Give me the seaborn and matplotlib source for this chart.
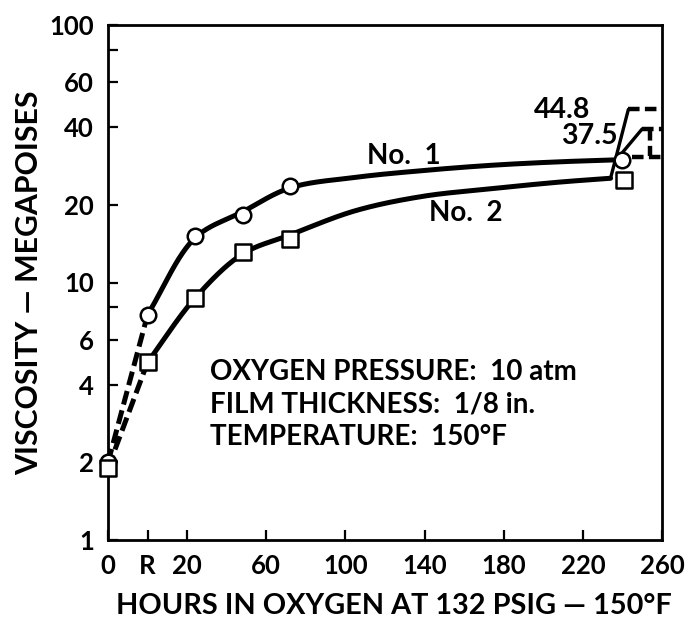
import numpy as np
import pandas as pd
import matplotlib
matplotlib.use("Agg")
import matplotlib.pyplot as plt
import seaborn as sns

# ---------------- data ----------------
# x position -20 is the axis origin labelled "0" (unaged), 0 is "R"
# plotted markers
hours_no1 = [-20, 0, 24, 48, 72, 240]
visc_no1 = [2.0, 7.5, 15.1, 18.3, 23.8, 30.0]
hours_no2 = [-20, 0, 24, 48, 72, 241]
visc_no2 = [1.9, 4.9, 8.7, 13.1, 14.7, 24.9]

# drawn (faired) curves
curve_no1_hours = [0, 24, 48, 72, 105, 139, 173, 207, 240]
curve_no1_visc = [7.5, 14.9, 18.8, 23.3, 25.6, 27.2, 28.5, 29.4, 30.0]
curve_no2_hours = [0, 24, 48, 72, 105, 139, 173, 207, 234]
curve_no2_visc = [4.9, 8.7, 12.9, 15.3, 19.0, 21.6, 23.1, 24.5, 25.4]

# final steep rises and dashed end levels
rise_a_x = [234, 243]
rise_a_y = [25.4, 47.0]
rise_b_x = [237, 250]
rise_b_y = [30.0, 39.5]
level_a_x = [243, 260]
level_a_y = [47.0, 47.0]
level_b_x = [250, 260]
level_b_y = [39.5, 39.5]
drop_x = [254, 254]
drop_y = [39.5, 31.0]
level_c_x = [245, 260]
level_c_y = [30.8, 30.8]
end_labels = ["44.8", "37.5"]

xtick_pos = [-20, 0, 20, 60, 100, 140, 180, 220, 260]
xtick_labels = ["0", "R", "20", "60", "100", "140", "180", "220", "260"]
ytick_pos = [1, 2, 4, 6, 8, 10, 20, 40, 60, 80, 100]
ytick_labels = ["1", "2", "4", "6", "", "10", "20", "40", "60", "", "100"]

XMIN, XMAX, YMIN, YMAX = -20, 260, 1, 100
W, H = 696, 622
AX_L, AX_R, AX_T, AX_B = 108, 662, 25, 540

# ---------------- helpers ----------------
def to_disp(x, v):
    X = (np.asarray(x, float) - XMIN) / (XMAX - XMIN) * (AX_R - AX_L)
    Y = (np.log10(v) - np.log10(YMIN)) / (np.log10(YMAX) - np.log10(YMIN)) * (AX_B - AX_T)
    return np.column_stack([X, Y])

def from_disp(P):
    x = P[:, 0] / (AX_R - AX_L) * (XMAX - XMIN) + XMIN
    v = 10 ** (P[:, 1] / (AX_B - AX_T) * (np.log10(YMAX) - np.log10(YMIN)) + np.log10(YMIN))
    return x, v

def catmull_rom(P, n=80, alpha=0.5):
    P = np.vstack([2 * P[0] - P[1], P, 2 * P[-1] - P[-2]])
    out = []
    for i in range(1, len(P) - 2):
        p0, p1, p2, p3 = P[i - 1], P[i], P[i + 1], P[i + 2]
        t0 = 0.0
        t1 = t0 + np.linalg.norm(p1 - p0) ** alpha
        t2 = t1 + np.linalg.norm(p2 - p1) ** alpha
        t3 = t2 + np.linalg.norm(p3 - p2) ** alpha
        t = np.linspace(t1, t2, n)[:, None]
        A1 = (t1 - t) / (t1 - t0) * p0 + (t - t0) / (t1 - t0) * p1
        A2 = (t2 - t) / (t2 - t1) * p1 + (t - t1) / (t2 - t1) * p2
        A3 = (t3 - t) / (t3 - t2) * p2 + (t - t2) / (t3 - t2) * p3
        B1 = (t2 - t) / (t2 - t0) * A1 + (t - t0) / (t2 - t0) * A2
        B2 = (t3 - t) / (t3 - t1) * A2 + (t - t1) / (t3 - t1) * A3
        C = (t2 - t) / (t2 - t1) * B1 + (t - t1) / (t2 - t1) * B2
        out.append(C)
    return np.vstack(out)

def smooth(xv, yv):
    return from_disp(catmull_rom(to_disp(xv, yv)))

# ---------------- figure ----------------
sns.set_theme(style="ticks")
plt.rcParams["font.family"] = ["Lato", "DejaVu Sans"]
plt.rcParams["font.weight"] = "bold"
fig = plt.figure(figsize=(W / 100, H / 100), dpi=100)
ax = fig.add_axes([AX_L / W, 1 - AX_B / H, (AX_R - AX_L) / W, (AX_B - AX_T) / H])
ax.set_yscale("log")

K = "black"
LW = 3.6
dash = (2.8, 1.2)

# dashed initial segments (0 -> R)
for hx, vy in ((hours_no1, visc_no1), (hours_no2, visc_no2)):
    sns.lineplot(x=hx[:2], y=vy[:2], ax=ax, color=K, lw=LW,
                 linestyle=(0, dash), estimator=None, sort=False)

# smooth solid curves
xs1, ys1 = smooth(curve_no1_hours, curve_no1_visc)
xs2, ys2 = smooth(curve_no2_hours, curve_no2_visc)
sns.lineplot(x=xs1, y=ys1, ax=ax, color=K, lw=LW, estimator=None, sort=False)
sns.lineplot(x=xs2, y=ys2, ax=ax, color=K, lw=LW, estimator=None, sort=False)

# steep rises
sns.lineplot(x=rise_a_x, y=rise_a_y, ax=ax, color=K, lw=2.4, estimator=None, sort=False)
sns.lineplot(x=rise_b_x, y=rise_b_y, ax=ax, color=K, lw=2.4, estimator=None, sort=False)
# dashed levels
for lx, ly in ((level_a_x, level_a_y), (level_b_x, level_b_y),
               (drop_x, drop_y), (level_c_x, level_c_y)):
    sns.lineplot(x=lx, y=ly, ax=ax, color=K, lw=3.2, linestyle=(0, (2.6, 1.2)),
                 estimator=None, sort=False)

# markers
sns.scatterplot(x=hours_no1, y=visc_no1, ax=ax, marker="o", s=125,
                facecolor="white", edgecolor=K, linewidth=1.8, zorder=5, clip_on=False)
sns.scatterplot(x=hours_no2, y=visc_no2, ax=ax, marker="s", s=125,
                facecolor="white", edgecolor=K, linewidth=1.8, zorder=6, clip_on=False)

# axes styling
ax.set_xlim(XMIN, XMAX)
ax.set_ylim(YMIN, YMAX)
ax.set_xticks(xtick_pos)
ax.set_xticklabels(xtick_labels)
ax.set_yticks(ytick_pos)
ax.set_yticklabels(ytick_labels)
ax.minorticks_off()
ax.tick_params(axis="both", direction="in", length=7, width=1.6, colors=K,
               labelsize=18.5)
ax.tick_params(axis="x", pad=10)
ax.tick_params(axis="y", pad=10)
for lab in ax.get_xticklabels() + ax.get_yticklabels():
    lab.set_fontweight("bold")
for sp in ax.spines.values():
    sp.set_visible(True)
    sp.set_color(K)
    sp.set_linewidth(2.0)
ax.set_xlabel("")
ax.set_ylabel("")

def ftext(x, y, s, **kw):
    fig.text(x / W, 1 - y / H, s, color=K, fontweight="bold", **kw)

ftext(394, 606, "HOURS IN OXYGEN AT 132 PSIG — 150°F", fontsize=20.8,
      ha="center", va="center")
ftext(29, 283, "VISCOSITY — MEGAPOISES", fontsize=21.8, ha="center",
      va="center", rotation=90)

ftext(404, 156, "No.  1", fontsize=20, ha="center", va="center")
ftext(466, 213, "No.  2", fontsize=20, ha="center", va="center")

ftext(590, 110, end_labels[0], fontsize=20.5, ha="right", va="center")
ftext(618, 136, end_labels[1], fontsize=20.5, ha="right", va="center")

ftext(210, 372, "OXYGEN PRESSURE:  10 atm", fontsize=20, ha="left", va="center")
ftext(210, 405, "FILM THICKNESS:  1/8 in.", fontsize=20, ha="left", va="center")
ftext(210, 437, "TEMPERATURE:  150°F", fontsize=20, ha="left", va="center")

fig.savefig("out.png", dpi=100, facecolor="white")
